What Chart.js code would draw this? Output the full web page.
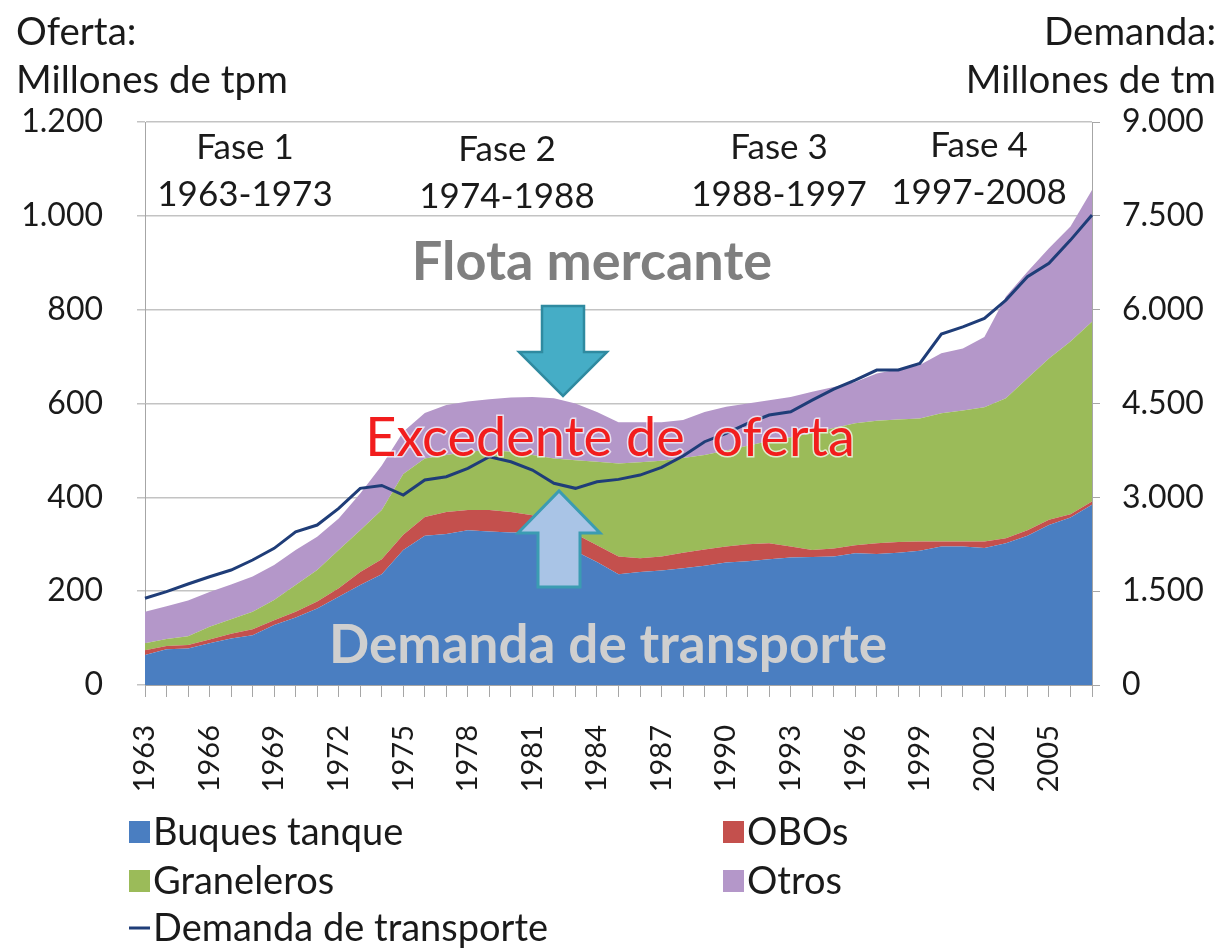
<!DOCTYPE html>
<html>
<head>
<meta charset="utf-8">
<script src="https://cdn.jsdelivr.net/npm/chart.js@4.4.1/dist/chart.umd.min.js"></script>
<style>
  html, body { margin: 0; padding: 0; background: #ffffff; }
  #wrap { width: 1230px; height: 950px; position: relative; }
  canvas { display: block; }
</style>
</head>
<body>
<div id="wrap"><canvas id="c" width="1230" height="950"></canvas></div>
<script>
// ---------- DATA ----------
const years = ["1963","1964","1965","1966","1967","1968","1969","1970","1971","1972",
  "1973","1974","1975","1976","1977","1978","1979","1980","1981","1982",
  "1983","1984","1985","1986","1987","1988","1989","1990","1991","1992",
  "1993","1994","1995","1996","1997","1998","1999","2000","2001","2002",
  "2003","2004","2005","2006","2007"];

// Oferta (millones de tpm), stacked
const buquesTanque = [64,76,78,89,99,106,128,144,163,188,
  213,236,288,318,322,330,327,325,325,310,
  285,262,236,241,244,249,254,261,264,268,
  272,273,274,281,279,282,286,295,295,292,
  302,318,341,357,384];
const obos = [10,7,7,8,10,13,10,12,15,18,
  28,32,32,40,47,43,46,44,37,35,
  37,36,38,29,30,33,35,34,36,34,
  23,15,17,17,23,23,20,11,11,14,
  11,12,11,7,7];
const graneleros = [15,15,19,27,31,37,43,57,67,82,
  89,105,130,125,121,124,128,128,128,138,
  157,178,198,205,204,202,201,205,210,218,
  233,249,257,260,261,261,262,273,279,286,
  298,324,344,368,383];
const otros = [67,70,76,74,74,75,75,75,71,67,
  78,95,90,97,107,107,108,116,124,128,
  121,106,88,85,82,81,92,93,90,87,
  86,88,87,88,101,107,114,128,132,150,
  217,227,235,245,281];

// Demanda de transporte (millones de tm), right axis
const demanda = [1386,1492,1614,1731,1838,1998,2185,2450,2557,2824,
  3144,3190,3037,3277,3329,3464,3649,3569,3436,3224,
  3144,3250,3287,3356,3479,3660,3889,4022,4183,4316,
  4368,4555,4730,4875,5035,5035,5141,5610,5726,5861,
  6153,6526,6740,7112,7512];

// Axis ticks
const leftTicks = [0,200,400,600,800,1000,1200];
const rightTicks = [0,1500,3000,4500,6000,7500,9000];
const labelEvery = 3;

// Annotations
const fases = ["Fase 1","Fase 2","Fase 3","Fase 4"];
const faseYears = ["1963-1973","1974-1988","1988-1997","1997-2008"];

const seriesNames = ["Buques tanque","OBOs","Graneleros","Otros","Demanda de transporte"];
const colors = { tanque:"#4a7ec1", obos:"#c4504d", gran:"#9bbb59", otros:"#b497c9", line:"#1f3d78" };

const FONT = "Lato, 'Open Sans', sans-serif";
const fmt = v => String(v).replace(/\B(?=(\d{3})+(?!\d))/g, ".");

// ---------- OVERLAY PLUGIN ----------
function arrowShape(ctx, cx, base, headBase, tip, sh, hh) {
  ctx.beginPath();
  ctx.moveTo(cx - sh, base); ctx.lineTo(cx + sh, base);
  ctx.lineTo(cx + sh, headBase); ctx.lineTo(cx + hh, headBase);
  ctx.lineTo(cx, tip); ctx.lineTo(cx - hh, headBase);
  ctx.lineTo(cx - sh, headBase); ctx.closePath();
}

const overlay = {
  id: "overlay",
  afterDraw(chart) {
    const ctx = chart.ctx;
    ctx.save();
    ctx.textBaseline = "middle";

    // axis titles
    ctx.fillStyle = "#1a1a1a";
    ctx.font = "38.5px " + FONT;
    ctx.textAlign = "left";
    ctx.fillText("Oferta:", 16, 33);
    ctx.fillText("Millones de tpm", 16, 81);
    ctx.textAlign = "right";
    ctx.fillText("Demanda:", 1216, 33);
    ctx.fillText("Millones de tm", 1216, 81);

    // phases
    ctx.textAlign = "center";
    ctx.font = "35px " + FONT;
    const faseX = [245, 507, 779, 979];
    const dy = [0, 2, 0, -2];
    for (let i = 0; i < fases.length; i++) {
      ctx.fillText(fases[i], faseX[i], 148 + dy[i]);
      ctx.fillText(faseYears[i], faseX[i], 195 + dy[i]);
    }

    // arrows
    arrowShape(ctx, 563, 306, 352, 396, 21, 44);
    ctx.fillStyle = "#45adc6"; ctx.fill();
    ctx.lineWidth = 2.5; ctx.strokeStyle = "#2f8aa0"; ctx.stroke();
    arrowShape(ctx, 559, 587, 533, 491, 21, 41);
    ctx.fillStyle = "#a9c4e6"; ctx.fill();
    ctx.lineWidth = 3; ctx.strokeStyle = "#3b9cb2"; ctx.stroke();

    // big labels
    ctx.font = "bold 54px " + FONT;
    ctx.fillStyle = "#7f7f7f";
    ctx.fillText("Flota mercante", 592, 263);

    ctx.font = "54px " + FONT;
    ctx.lineWidth = 3; ctx.strokeStyle = "rgba(255,255,255,0.7)";
    ctx.strokeText("Excedente de  oferta", 610, 439);
    ctx.fillStyle = "#f21d1d";
    ctx.fillText("Excedente de  oferta", 610, 439);

    ctx.font = "bold 53px " + FONT;
    ctx.fillStyle = "#cfcfcf";
    ctx.fillText("Demanda de transporte", 608, 646);

    // legend
    ctx.textAlign = "left";
    ctx.font = "38px " + FONT;
    const items = [
      { t: seriesNames[0], c: colors.tanque, x: 129, y: 832, box: true },
      { t: seriesNames[1], c: colors.obos, x: 723, y: 832, box: true },
      { t: seriesNames[2], c: colors.gran, x: 129, y: 881, box: true },
      { t: seriesNames[3], c: colors.otros, x: 723, y: 881, box: true },
      { t: seriesNames[4], c: colors.line, x: 129, y: 928, box: false }
    ];
    for (const it of items) {
      ctx.fillStyle = it.c;
      if (it.box) ctx.fillRect(it.x, it.y - 11, 21, 22);
      else ctx.fillRect(it.x, it.y - 1.5, 21, 3);
      ctx.fillStyle = "#1a1a1a";
      ctx.fillText(it.t, it.x + 24, it.y + 1);
    }
    ctx.restore();
  }
};

// ---------- CHART ----------
const tickFont = { family: FONT, size: 32 };
new Chart(document.getElementById("c"), {
  type: "line",
  data: {
    labels: years,
    datasets: [
      { label: seriesNames[4], data: demanda, yAxisID: "y2", borderColor: colors.line,
        borderWidth: 3, pointRadius: 0, fill: false, tension: 0, order: 0 },
      { label: seriesNames[0], data: buquesTanque, yAxisID: "y", backgroundColor: colors.tanque,
        borderWidth: 0, pointRadius: 0, fill: "origin", tension: 0, order: 1, stack: "s" },
      { label: seriesNames[1], data: obos, yAxisID: "y", backgroundColor: colors.obos,
        borderWidth: 0, pointRadius: 0, fill: "-1", tension: 0, order: 2, stack: "s" },
      { label: seriesNames[2], data: graneleros, yAxisID: "y", backgroundColor: colors.gran,
        borderWidth: 0, pointRadius: 0, fill: "-1", tension: 0, order: 3, stack: "s" },
      { label: seriesNames[3], data: otros, yAxisID: "y", backgroundColor: colors.otros,
        borderWidth: 0, pointRadius: 0, fill: "-1", tension: 0, order: 4, stack: "s" }
    ]
  },
  options: {
    responsive: false,
    animation: false,
    devicePixelRatio: 1,
    layout: { padding: { top: 122, left: 0, right: 0, bottom: 0 } },
    plugins: { legend: { display: false }, tooltip: { enabled: false } },
    scales: {
      x: {
        type: "category",
        offset: false,
        grid: { display: true, drawOnChartArea: false, drawTicks: true, tickLength: 12, color: "#a6a6a6" },
        border: { display: true, color: "#a6a6a6" },
        ticks: {
          autoSkip: false, maxRotation: 90, minRotation: 90, padding: 28,
          color: "#1a1a1a", font: { family: FONT, size: 29 },
          callback: (v, i) => (i % labelEvery === 0 ? years[i] : "")
        },
        afterFit: s => { s.height = 265; }
      },
      y: {
        position: "left", stacked: true, min: leftTicks[0], max: leftTicks[leftTicks.length - 1],
        afterBuildTicks: s => { s.ticks = leftTicks.map(v => ({ value: v })); },
        grid: { color: "#c3c3c3", lineWidth: 1.5, tickLength: 8 },
        border: { display: true, color: "#a6a6a6" },
        ticks: { padding: 34, color: "#1a1a1a", font: tickFont, callback: v => fmt(v) },
        afterFit: s => { s.width = 145; }
      },
      y2: {
        position: "right", min: rightTicks[0], max: rightTicks[rightTicks.length - 1],
        afterBuildTicks: s => { s.ticks = rightTicks.map(v => ({ value: v })); },
        grid: { drawOnChartArea: false, color: "#a6a6a6", tickLength: 8 },
        border: { display: true, color: "#a6a6a6" },
        ticks: { padding: 22, color: "#1a1a1a", font: tickFont, callback: v => fmt(v) },
        afterFit: s => { s.width = 138; }
      }
    }
  },
  plugins: [overlay]
});
</script>
</body>
</html>
